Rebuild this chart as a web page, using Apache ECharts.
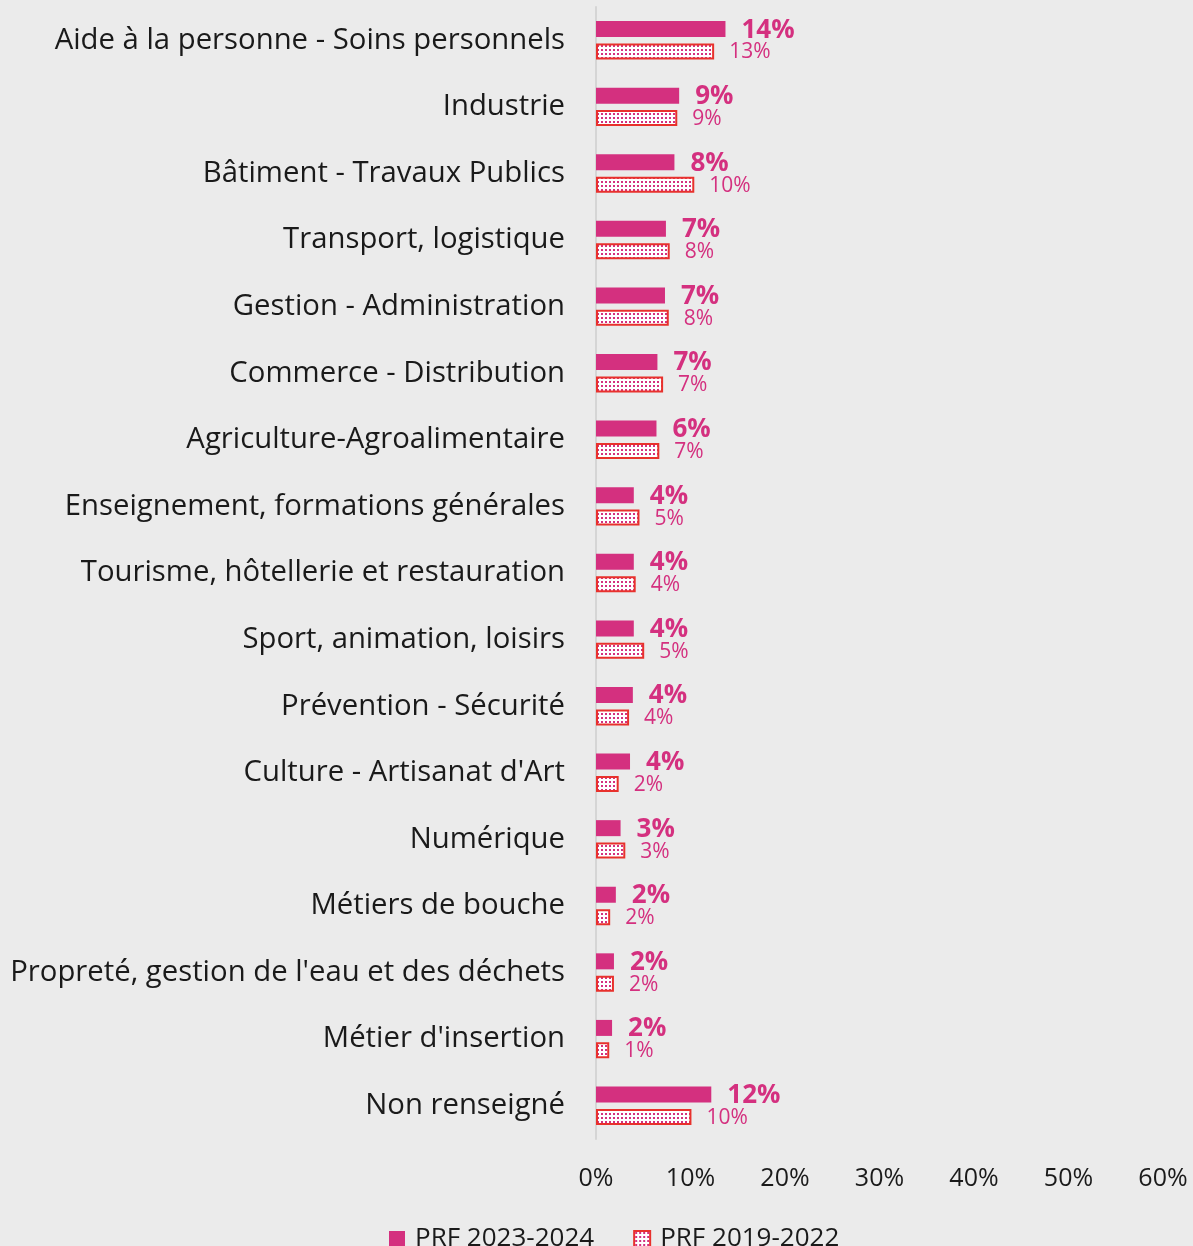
<!DOCTYPE html>
<html>
<head>
<meta charset="utf-8">
<script src="https://cdn.jsdelivr.net/npm/echarts@6/dist/echarts.min.js"></script>
<style>
  html, body { margin: 0; padding: 0; background: #ebebeb; }
  #chart { width: 1193px; height: 1246px; }
</style>
</head>
<body>
<div id="chart"></div>
<script>
const categories = [
  'Aide à la personne - Soins personnels',
  'Industrie',
  'Bâtiment - Travaux Publics',
  'Transport, logistique',
  'Gestion - Administration',
  'Commerce - Distribution',
  'Agriculture-Agroalimentaire',
  'Enseignement, formations générales',
  'Tourisme, hôtellerie et restauration',
  'Sport, animation, loisirs',
  'Prévention - Sécurité',
  "Culture - Artisanat d'Art",
  'Numérique',
  'Métiers de bouche',
  "Propreté, gestion de l'eau et des déchets",
  "Métier d'insertion",
  'Non renseigné'
]
const prf2023 = [13.7, 8.8, 8.3, 7.4, 7.3, 6.5, 6.4, 4.0, 4.0, 4.0, 3.9, 3.6, 2.6, 2.1, 1.9, 1.7, 12.2]
const prf2019 = [12.5, 8.6, 10.4, 7.8, 7.7, 7.1, 6.7, 4.6, 4.2, 5.1, 3.5, 2.4, 3.1, 1.5, 1.9, 1.4, 10.1]
const xTicks = { min: 0, max: 60, interval: 10 }

const pink = '#d4307f'
const red = '#e8312c'

// petit motif pointillé pour la série 2019-2022
const makeDots = () => {
  const c = document.createElement('canvas')
  c.width = 4
  c.height = 4
  const ctx = c.getContext('2d')
  ctx.fillStyle = '#ffffff'
  ctx.fillRect(0, 0, 4, 4)
  ctx.fillStyle = pink
  ctx.fillRect(1, 1, 2, 2)
  return c
}
const dots = { image: makeDots(), repeat: 'repeat' }

const myChart = echarts.init(document.getElementById('chart'))
const font = '"Open Sans", "Noto Sans", sans-serif'

const options = {
  backgroundColor: '#ebebeb',
  animation: false,
  textStyle: { fontFamily: font },
  grid: { left: 596, right: 30, top: 7, bottom: 107, containLabel: false },
  legend: {
    top: 1221,
    left: 384,
    icon: 'rect',
    itemWidth: 16,
    itemHeight: 16,
    itemGap: 39,
    textStyle: { fontSize: 26, color: '#1a1a1a', fontFamily: font, padding: [0, 0, 0, 5] },
    data: ['PRF 2023-2024', 'PRF 2019-2022']
  },
  xAxis: {
    type: 'value',
    min: xTicks.min,
    max: xTicks.max,
    interval: xTicks.interval,
    axisLine: { show: false },
    axisTick: { show: false },
    splitLine: { show: false },
    axisLabel: {
      formatter: '{value}%',
      fontSize: 25,
      color: '#1a1a1a',
      margin: 27
    }
  },
  yAxis: {
    type: 'category',
    inverse: true,
    data: categories,
    axisLine: { lineStyle: { color: '#d5d5d5', width: 2 } },
    axisTick: { show: false },
    axisLabel: {
      fontSize: 29.3,
      color: '#1a1a1a',
      margin: 31
    }
  },
  series: [
    {
      name: 'PRF 2023-2024',
      type: 'bar',
      data: prf2023,
      barWidth: 16,
      barGap: '40%',
      itemStyle: { color: pink },
      label: {
        show: true,
        position: 'right',
        distance: 16,
        formatter: p => Math.round(p.value) + '%',
        color: pink,
        fontSize: 26,
        fontWeight: 'bold',
        offset: [0, 1]
      }
    },
    {
      name: 'PRF 2019-2022',
      type: 'bar',
      data: prf2019,
      barWidth: 16,
      barGap: '40%',
      itemStyle: { color: dots, borderColor: red, borderWidth: 2 },
      label: {
        show: true,
        position: 'right',
        distance: 15,
        formatter: p => Math.round(p.value) + '%',
        color: pink,
        fontSize: 21,
        offset: [0, 1]
      }
    }
  ]
}
myChart.setOption(options)
</script>
</body>
</html>
